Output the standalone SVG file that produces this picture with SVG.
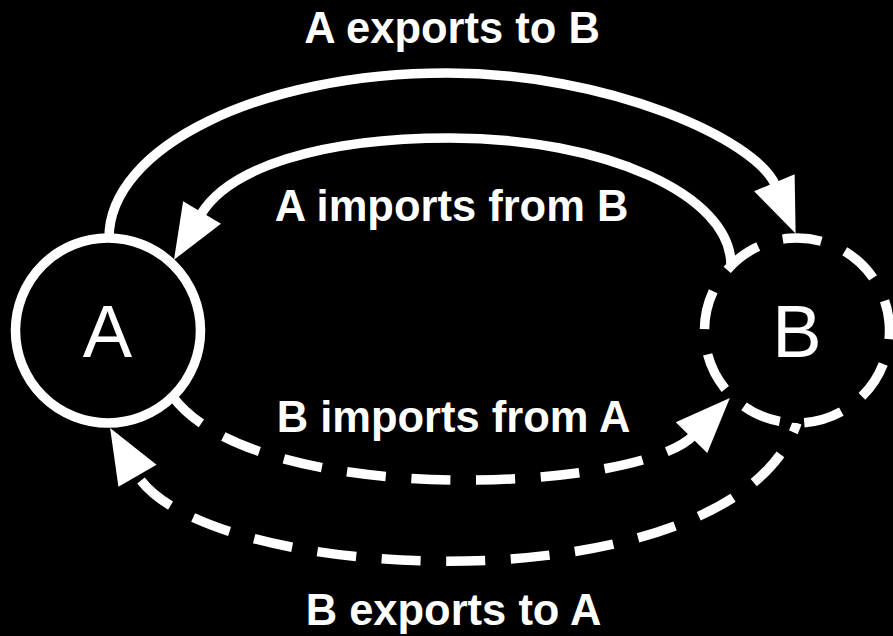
<svg xmlns="http://www.w3.org/2000/svg" width="893" height="636" viewBox="0 0 893 636">
  <defs>
    <style>
      .link { fill: none; stroke: #fff; stroke-width: 9.5; stroke-linecap: butt; }
      .dashed { stroke-dasharray: 39 25.58; }
      .node { fill: #000; stroke: #fff; stroke-width: 9.5; }
      .node-label { font-family: "Liberation Sans", Arial, sans-serif; font-size: 74px; fill: #fff; text-anchor: middle; }
      .edge-label { font-family: "Liberation Sans", Arial, sans-serif; font-size: 43.5px; font-weight: bold; fill: #fff; text-anchor: middle; }
    </style>
    <marker id="arrow" markerUnits="userSpaceOnUse" markerWidth="55" markerHeight="44" refX="3" refY="22" orient="auto" overflow="visible">
      <path d="M0,0 L55,22 L0,44 Z" fill="#fff"/>
    </marker>
  </defs>

  <rect width="893" height="636" fill="#000"/>

  <g id="connectors">
    <!-- A exports to B (solid, outer top arc) -->
    <path id="a-exports-b" class="link" marker-end="url(#arrow)"
          d="M109,238 C109,147 260.3,73 447,73 C607,73 756,139 775.5,185.5"/>
    <!-- A imports from B (solid, inner top arc) -->
    <path id="a-imports-b" class="link" marker-end="url(#arrow)"
          d="M731,265 C731,195 605,138 450,138 C320,138 228.5,167.7 200.5,215"/>
    <!-- B imports from A (dashed, inner bottom arc) -->
    <path id="b-imports-a" class="link dashed" marker-end="url(#arrow)"
          d="M173,397 C257,509 637.6,493 693.6,435.4"/>
    <!-- B exports to A (dashed, outer bottom arc) -->
    <path id="b-exports-a" class="link dashed" marker-end="url(#arrow)" stroke-dashoffset="29"
          d="M797,423 C731,611 201,586.3 136,473.2"/>

    <text class="edge-label" x="452" y="43">A exports to B</text>
    <text class="edge-label" x="451.5" y="221">A imports from B</text>
    <text class="edge-label" x="453.5" y="432">B imports from A</text>
    <text class="edge-label" x="453.5" y="625">B exports to A</text>
  </g>

  <g id="node-a">
    <circle class="node" cx="108" cy="330.5" r="92.5"/>
    <text class="node-label" x="107.5" y="357">A</text>
  </g>

  <g id="node-b">
    <path class="node dashed"
          d="M804.25,422.72 A92.5,92.5 0 1,0 789.75,238.28 A92.5,92.5 0 1,0 804.25,422.72 Z"/>
    <text class="node-label" x="797" y="357">B</text>
  </g>
</svg>
